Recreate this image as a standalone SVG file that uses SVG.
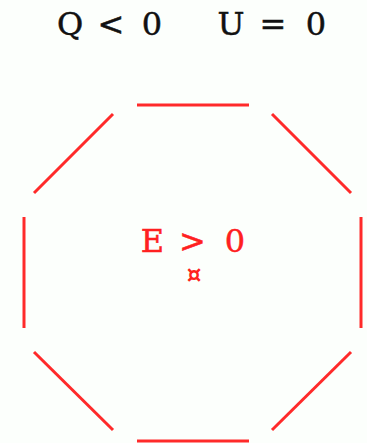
<svg xmlns="http://www.w3.org/2000/svg" width="367" height="443" viewBox="0 0 367 443">
<style>
.t{font-family:"DejaVu Serif","Liberation Serif",serif;font-size:32px;text-anchor:middle;stroke-width:0.5px}
.e{stroke:#ff2a2a;stroke-width:3;stroke-linecap:butt;fill:none}
</style>
<rect width="367" height="443" fill="#fcfffc"/>
<g id="title"><text class="t" y="35" fill="#111" stroke="#111"><tspan x="70">Q</tspan><tspan x="111">&lt;</tspan><tspan x="152">0</tspan><tspan x="231">U</tspan><tspan x="273">=</tspan><tspan x="316">0</tspan></text></g>
<g id="octagon">
<line class="e" x1="137" y1="105" x2="249" y2="105"/>
<line class="e" x1="272" y1="114" x2="351" y2="193"/>
<line class="e" x1="361" y1="217" x2="361" y2="328"/>
<line class="e" x1="351" y1="352" x2="272" y2="430"/>
<line class="e" x1="249" y1="441" x2="137" y2="441"/>
<line class="e" x1="113" y1="430" x2="34" y2="352"/>
<line class="e" x1="24" y1="328" x2="24" y2="217"/>
<line class="e" x1="34" y1="193" x2="113" y2="114"/>
</g>
<g id="label">
<text class="t" y="252" fill="#ff2020" stroke="#ff2020"><tspan x="152.5">E</tspan><tspan x="192.5">&gt;</tspan><tspan x="235">0</tspan></text>
<text x="194" y="282" text-anchor="middle" font-family="DejaVu Sans,sans-serif" font-size="23" font-weight="bold" fill="#ff2020">¤</text>
</g>
</svg>
